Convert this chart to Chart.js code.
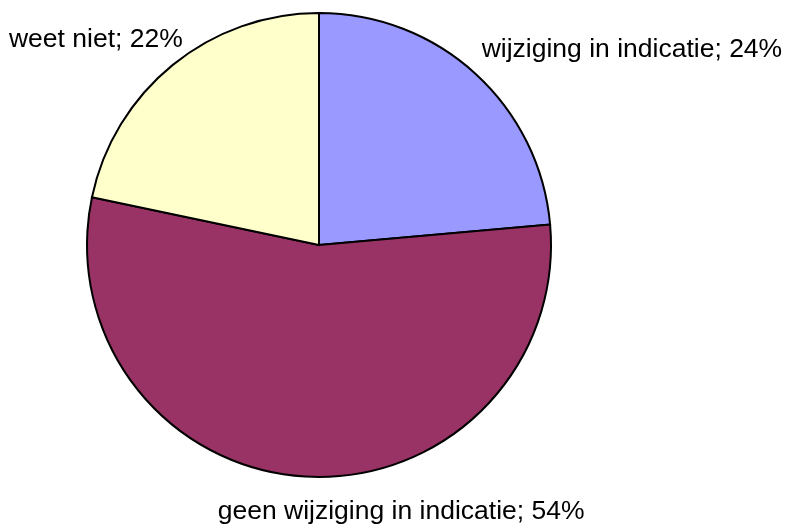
<!DOCTYPE html>
<html>
<head>
<meta charset="utf-8">
<script src="https://cdn.jsdelivr.net/npm/chart.js@4.4.0/dist/chart.umd.min.js"></script>
<style>
  html, body { margin: 0; padding: 0; background: #fff; }
  #wrap { width: 786px; height: 524px; }
</style>
</head>
<body>
<div id="wrap"><canvas id="pieChart" width="786" height="524"></canvas></div>
<script>
const categories = ['wijziging in indicatie', 'geen wijziging in indicatie', 'weet niet'];
const values = [23.6, 54.7, 21.7];
// percentages as printed on the labels
const percentLabels = ['24%', '54%', '22%'];
const sliceColors = ['#9999FF', '#993366', '#FFFFCC'];
// label anchor tweaks relative to the slice edge point (dx, dy to baseline, align)
const labelOffsets = [[6, -17, 'left'], [96, 42, 'center'], [10, -18, 'right']];

const outsideLabels = {
    id: 'outsideLabels',
    afterDatasetsDraw(chart) {
        const ctx = chart.ctx;
        const meta = chart.getDatasetMeta(0);
        ctx.save();
        ctx.font = '26.5px "Liberation Sans", Arial, sans-serif';
        ctx.fillStyle = '#000';
        ctx.textBaseline = 'alphabetic';
        meta.data.forEach((arc, i) => {
            const mid = (arc.startAngle + arc.endAngle) / 2;
            const x = arc.x + Math.cos(mid) * arc.outerRadius;
            const y = arc.y + Math.sin(mid) * arc.outerRadius;
            const [dx, dy, align] = labelOffsets[i];
            ctx.textAlign = align;
            ctx.fillText(categories[i] + '; ' + percentLabels[i], x + dx, y + dy);
        });
        ctx.restore();
    }
};

new Chart(document.getElementById('pieChart').getContext('2d'), {
    type: 'pie',
    data: {
        labels: categories,
        datasets: [{
            data: values,
            backgroundColor: sliceColors,
            borderColor: '#000',
            borderWidth: 2,
            borderJoinStyle: 'miter'
        }]
    },
    options: {
        responsive: false,
        animation: false,
        layout: { padding: { left: 86, right: 234, top: 12, bottom: 46 } },
        plugins: {
            legend: { display: false },
            tooltip: { enabled: false }
        }
    },
    plugins: [outsideLabels]
});
</script>
</body>
</html>
